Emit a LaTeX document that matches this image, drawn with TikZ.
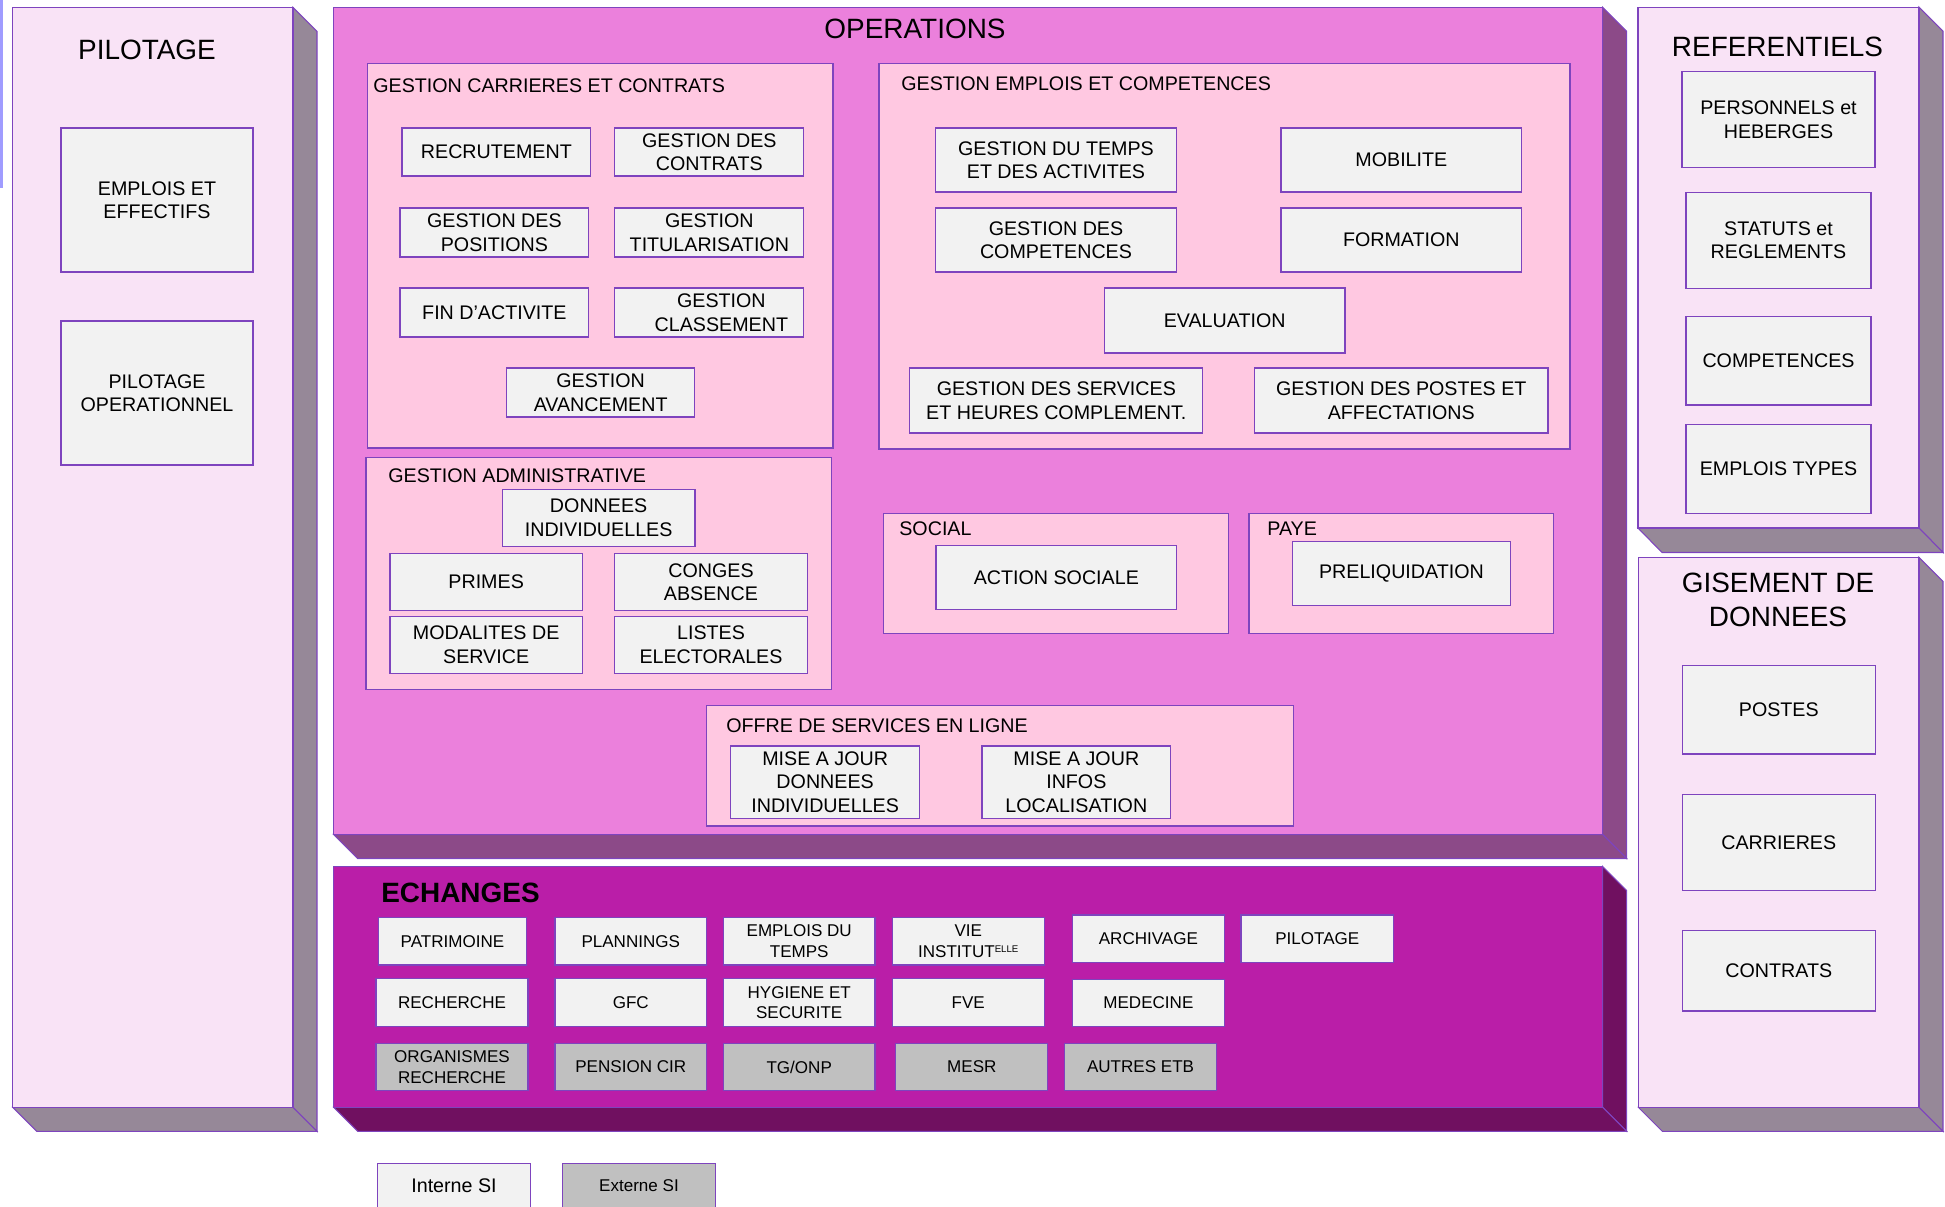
\documentclass[tikz,border=0pt]{standalone}
\usepackage{fontspec}
\setmainfont{Liberation Sans}

\definecolor{clair}{HTML}{F9E3F6}
\definecolor{grisbloc}{HTML}{968898}
\definecolor{operfond}{HTML}{EB80DC}
\definecolor{operflanc}{HTML}{8C4A88}
\definecolor{echfond}{HTML}{BA1EA8}
\definecolor{echflanc}{HTML}{701060}
\definecolor{cadrerose}{HTML}{FFC8E1}
\definecolor{boitegris}{HTML}{F2F2F2}
\definecolor{externe}{HTML}{C0C0C0}
\definecolor{violet}{HTML}{7E44BE}
\definecolor{lilas}{HTML}{A09CFF}

\begin{document}
\begin{tikzpicture}[x=0.02cm,y=-0.02cm,
  trait/.style={draw=violet, line width=0.6pt},
  boite/.style={trait, fill=boitegris},
  boiteext/.style={trait, fill=externe},
  cadre/.style={trait, fill=cadrerose},
  texte/.style={align=center, inner sep=0pt, font=\fontsize{11.2}{13.4}\selectfont},
  petit/.style={align=center, inner sep=0pt, font=\fontsize{9.7}{11.8}\selectfont},
  titre/.style={align=center, inner sep=0pt, font=\fontsize{15.9}{19.4}\selectfont},
  soustitre/.style={anchor=west, inner sep=0pt, font=\fontsize{11.2}{13.4}\selectfont}]
  \useasboundingbox (0,0) rectangle (1945,1207);
  \clip (0,0) rectangle (1945,1207);
  \fill[lilas] (0,0) rectangle (2.7,188);

  % blocs
  \draw[trait, fill=grisbloc] (293,7.3) -- (317,31.3) -- (317,1131.3) -- (293,1107.3) -- cycle;
  \draw[trait, fill=grisbloc] (12.7,1107.3) -- (293,1107.3) -- (317,1131.3) -- (36.7,1131.3) -- cycle;
  \draw[trait, fill=clair] (12.7,7.3) rectangle (293,1107.3);

  \draw[trait, fill=operflanc] (1602.6,7.3) -- (1626.6,31.3) -- (1626.6,858.5) -- (1602.6,834.5) -- cycle;
  \draw[trait, fill=operflanc] (333.7,834.5) -- (1602.6,834.5) -- (1626.6,858.5) -- (357.7,858.5) -- cycle;
  \draw[trait, fill=operfond] (333.7,7.3) rectangle (1602.6,834.5);

  \draw[trait, fill=echflanc] (1602.6,866.5) -- (1626.6,890.5) -- (1626.6,1131.3) -- (1602.6,1107.3) -- cycle;
  \draw[trait, fill=echflanc] (333.7,1107.3) -- (1602.6,1107.3) -- (1626.6,1131.3) -- (357.7,1131.3) -- cycle;
  \draw[trait, fill=echfond] (333.7,866.5) rectangle (1602.6,1107.3);

  \draw[trait, fill=grisbloc] (1919,7.1) -- (1943,31.1) -- (1943,552.5) -- (1919,528) -- cycle;
  \draw[trait, fill=grisbloc] (1638,528) -- (1919,528) -- (1943,552.5) -- (1662,552.5) -- cycle;
  \draw[trait, fill=clair] (1638,7.1) rectangle (1919,528);

  \draw[trait, fill=grisbloc] (1919,557.3) -- (1943,581.3) -- (1943,1131.3) -- (1919,1107.3) -- cycle;
  \draw[trait, fill=grisbloc] (1638.3,1107.3) -- (1919,1107.3) -- (1943,1131.3) -- (1662.3,1131.3) -- cycle;
  \draw[trait, fill=clair] (1638.3,557.3) rectangle (1919,1107.3);

  \node[titre] (t-pil) at (147,50) {PILOTAGE};
  \node[titre] (t-ope) at (915,28.5) {OPERATIONS};
  \node[titre] (t-ref) at (1777.5,46.4) {REFERENTIELS};
  \node[titre] (t-gis) at (1778,600) {GISEMENT DE\\DONNEES};
  \node[titre, anchor=west, font=\fontsize{15.9}{19.4}\selectfont\bfseries] (t-ech) at (381,893) {ECHANGES};

  % pilotage
  \draw[boite] (61,128) rectangle (253,272) node[texte, midway] (emploiseff) {EMPLOIS ET\\EFFECTIFS};
  \draw[boite] (61,321) rectangle (253,465) node[texte, midway] (pilotop) {PILOTAGE\\OPERATIONNEL};

  % cadres des operations
  \draw[cadre] (367.6,63.3) rectangle (833,448);
  \draw[cadre] (879,63.3) rectangle (1570,449);
  \draw[cadre] (366,457.3) rectangle (831.7,689.3);
  \draw[cadre] (883.4,513.3) rectangle (1228.9,633.3);
  \draw[cadre] (1249,513.3) rectangle (1553.5,633.3);
  \draw[cadre] (706.9,705.7) rectangle (1293.2,826);
  \node[soustitre] (t-gcc) at (373,86) {GESTION CARRIERES ET CONTRATS};
  \node[soustitre] (t-gec) at (901,84) {GESTION EMPLOIS ET COMPETENCES};
  \node[soustitre] (t-ga) at (388,476) {GESTION ADMINISTRATIVE};
  \node[soustitre] (t-soc) at (899,528.3) {SOCIAL};
  \node[soustitre] (t-paye) at (1267,528.3) {PAYE};
  \node[soustitre] (t-offre) at (726,726) {OFFRE DE SERVICES EN LIGNE};

  % gestion carrieres et contrats
  \draw[boite] (402,128) rectangle (590.7,176) node[texte, midway] (recrut) {RECRUTEMENT};
  \draw[boite] (614.8,128) rectangle (803.9,176) node[texte, midway] (contrats) {GESTION DES\\CONTRATS};
  \draw[boite] (400,208) rectangle (588.8,257) node[texte, midway] (positions) {GESTION DES\\POSITIONS};
  \draw[boite] (614.8,208) rectangle (803.9,257) node[texte, midway] (titul) {GESTION\\TITULARISATION};
  \draw[boite] (400,288) rectangle (588.8,337) node[texte, midway] (finact) {FIN D’ACTIVITE};
  \draw[boite] (614.8,288) rectangle (803.9,337) node[texte, midway, xshift=0.24cm] (classe) {GESTION\\CLASSEMENT};
  \draw[boite] (506.5,368) rectangle (694.8,417) node[texte, midway] (avanc) {GESTION\\AVANCEMENT};

  % gestion emplois et competences
  \draw[boite] (935.6,128) rectangle (1176.4,192) node[texte, midway] (temps) {GESTION DU TEMPS\\ET DES ACTIVITES};
  \draw[boite] (1281,128) rectangle (1521.7,192) node[texte, midway] (mobil) {MOBILITE};
  \draw[boite] (935.6,208) rectangle (1176.4,272) node[texte, midway] (compet) {GESTION DES\\COMPETENCES};
  \draw[boite] (1281,208) rectangle (1521.7,272) node[texte, midway] (form) {FORMATION};
  \draw[boite] (1104.3,288) rectangle (1345,353) node[texte, midway] (eval) {EVALUATION};
  \draw[boite] (909.8,368) rectangle (1202.8,433) node[texte, midway] (services) {GESTION DES SERVICES\\ET HEURES COMPLEMENT.};
  \draw[boite] (1254.5,368) rectangle (1548,433) node[texte, midway] (postesaff) {GESTION DES POSTES ET\\AFFECTATIONS};

  % gestion administrative
  \draw[boite] (502.3,489.3) rectangle (695,546.3) node[texte, midway] (donnees) {DONNEES\\INDIVIDUELLES};
  \draw[boite] (390,553.7) rectangle (582.3,610.7) node[texte, midway] (primes) {PRIMES};
  \draw[boite] (614.7,553.7) rectangle (807.3,610.7) node[texte, midway] (conges) {CONGES\\ABSENCE};
  \draw[boite] (390,616.3) rectangle (582.3,673.3) node[texte, midway] (modal) {MODALITES DE\\SERVICE};
  \draw[boite] (614.7,616.3) rectangle (807.3,673.3) node[texte, midway] (listes) {LISTES\\ELECTORALES};

  % social, paye, offre en ligne
  \draw[boite] (936,545.3) rectangle (1176.7,609.3) node[texte, midway] (actsoc) {ACTION SOCIALE};
  \draw[boite] (1292.3,541.3) rectangle (1510.6,605.7) node[texte, midway] (preliq) {PRELIQUIDATION};
  \draw[boite] (730.6,746) rectangle (919.7,818.3) node[texte, midway] (majdonnees) {MISE A JOUR\\DONNEES\\INDIVIDUELLES};
  \draw[boite] (982,746) rectangle (1170.7,818.3) node[texte, midway] (majinfos) {MISE A JOUR\\INFOS\\LOCALISATION};

  % referentiels
  \draw[boite] (1682,71.4) rectangle (1875,167.9) node[texte, midway] (personnels) {PERSONNELS et\\HEBERGES};
  \draw[boite] (1686,192.1) rectangle (1871,288.2) node[texte, midway] (statuts) {STATUTS et\\REGLEMENTS};
  \draw[boite] (1686,316.4) rectangle (1871,405) node[texte, midway] (refcomp) {COMPETENCES};
  \draw[boite] (1686,424.3) rectangle (1871,513.2) node[texte, midway] (emtypes) {EMPLOIS TYPES};

  % gisement de donnees
  \draw[boite] (1682.3,665.7) rectangle (1875.3,754) node[texte, midway] (gpostes) {POSTES};
  \draw[boite] (1682.3,794.3) rectangle (1875.3,890.3) node[texte, midway] (gcarr) {CARRIERES};
  \draw[boite] (1682.3,930.3) rectangle (1875.3,1011) node[texte, midway] (gcontr) {CONTRATS};

  % echanges
  \draw[boite] (378.5,917.7) rectangle (526.4,965) node[petit, midway] (patri) {PATRIMOINE};
  \draw[boite] (555,917.7) rectangle (706.5,965) node[petit, midway] (plann) {PLANNINGS};
  \draw[boite] (723.4,917.7) rectangle (875,965) node[petit, midway] (edt) {EMPLOIS DU\\TEMPS};
  \draw[boite] (892.2,917.7) rectangle (1044.3,965) node[petit, midway] (vie) {VIE\\INSTITUT\raisebox{0.55ex}{\fontsize{5.5}{6}\selectfont ELLE}};
  \draw[boite] (1072.3,915) rectangle (1224.5,962.7) node[petit, midway] (archiv) {ARCHIVAGE};
  \draw[boite] (1241,915) rectangle (1393.6,962.7) node[petit, midway] (epilot) {PILOTAGE};
  \draw[boite] (376,978.7) rectangle (528,1026.7) node[petit, midway] (rech) {RECHERCHE};
  \draw[boite] (555,978.7) rectangle (706.5,1026.7) node[petit, midway] (gfc) {GFC};
  \draw[boite] (723.4,978.7) rectangle (875,1026.7) node[petit, midway] (hyg) {HYGIENE ET\\SECURITE};
  \draw[boite] (892.2,978.7) rectangle (1044.3,1026.7) node[petit, midway] (fve) {FVE};
  \draw[boite] (1072.3,979.3) rectangle (1224.5,1026.7) node[petit, midway] (medec) {MEDECINE};
  \draw[boiteext] (376,1043.3) rectangle (528,1090.7) node[petit, midway] (orgrech) {ORGANISMES\\RECHERCHE};
  \draw[boiteext] (555,1043.3) rectangle (706.5,1090.7) node[petit, midway] (pension) {PENSION CIR};
  \draw[boiteext] (723.4,1043.3) rectangle (875,1090.7) node[petit, midway] (tgonp) {TG/ONP};
  \draw[boiteext] (895.8,1043.3) rectangle (1047.9,1090.7) node[petit, midway] (mesr) {MESR};
  \draw[boiteext] (1064.7,1043.3) rectangle (1216.4,1090.7) node[petit, midway] (autres) {AUTRES ETB};

  % legende
  \draw[boite] (377.4,1163.3) rectangle (530.5,1215);
  \draw[boiteext] (562.7,1163.3) rectangle (715.2,1215);
  \node[texte] (interne) at (454,1186) {Interne SI};
  \node[petit] (externesi) at (639,1186) {Externe SI};
\end{tikzpicture}
\end{document}
